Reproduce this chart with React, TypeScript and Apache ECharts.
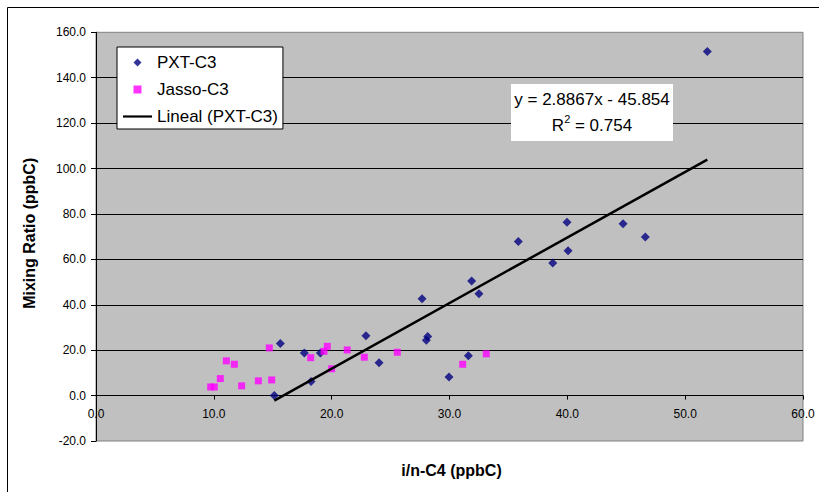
import React, { useEffect, useRef } from "react";
import * as echarts from "echarts";

// PXT-C3 series (x: i/n-C4 ppbC, y: mixing ratio ppbC)
const pxtX = [15.13, 15.64, 17.68, 18.25, 19.04, 22.91, 24.02, 27.67, 28.03, 28.15, 29.96, 31.6, 31.88, 32.5, 35.84, 38.76, 39.97, 40.06, 44.73, 46.62, 51.88];
const pxtY = [0.0, 22.9, 18.8, 6.2, 18.8, 26.4, 14.5, 42.7, 24.4, 26.0, 8.2, 17.6, 50.5, 44.9, 67.9, 58.4, 76.3, 63.8, 75.7, 69.9, 151.5];

// Jasso-C3 series
const jassoX = [9.73, 10.04, 10.55, 11.06, 11.74, 12.36, 13.78, 14.71, 14.91, 18.22, 19.35, 19.63, 20.0, 21.32, 22.77, 25.57, 31.12, 33.12];
const jassoY = [3.8, 3.8, 7.5, 15.3, 13.8, 4.3, 6.5, 21.0, 6.9, 16.7, 19.5, 21.7, 11.8, 20.1, 16.9, 19.1, 13.8, 18.4];

// Linear trend line (as displayed on the chart)
const trendSlope = 2.8867;
const trendIntercept = -45.854;
const trendR2 = 0.754;

// Axes
const xMin = 0;
const xMax = 60;
const xInterval = 10;
const yMin = -20;
const yMax = 160;
const yInterval = 20;

const seriesNames = ["PXT-C3", "Jasso-C3", "Lineal (PXT-C3)"];
const xTitle = "i/n-C4 (ppbC)";
const yTitle = "Mixing Ratio (ppbC)";

const FONT = "'Liberation Sans', Arial, sans-serif";

const GRID_TOP = 32.3;
const GRID_BOTTOM_PX = 441;

export default function App() {
  const ref = useRef<HTMLDivElement>(null);

  useEffect(() => {
    if (!ref.current) return;
    const chart = echarts.init(ref.current, null, { renderer: "svg" });

    const pxtData = pxtX.map((x, i) => [x, pxtY[i]]);
    const jassoData = jassoX.map((x, i) => [x, jassoY[i]]);
    const tx0 = Math.min(...pxtX);
    const tx1 = Math.max(...pxtX);
    const trendData = [
      [tx0, trendSlope * tx0 + trendIntercept],
      [tx1, trendSlope * tx1 + trendIntercept],
    ];
    const eqText = `y = ${trendSlope}x ${trendIntercept < 0 ? "-" : "+"} ${Math.abs(trendIntercept)}`;

    // x-axis sits on y = 0: shift it up from the bottom of the grid
    const plotH = GRID_BOTTOM_PX - GRID_TOP;
    const zeroOffset = -plotH * ((0 - yMin) / (yMax - yMin));

    chart.setOption({
      animation: false,
      backgroundColor: "#ffffff",
      textStyle: { fontFamily: FONT },
      grid: {
        left: 96,
        top: GRID_TOP,
        right: 16,
        bottom: 492 - GRID_BOTTOM_PX,
        show: true,
        backgroundColor: "#c0c0c0",
        borderColor: "#808080",
        borderWidth: 1,
      },
      xAxis: {
        type: "value",
        min: xMin,
        max: xMax,
        interval: xInterval,
        position: "bottom",
        offset: zeroOffset,
        axisLine: { show: true, onZero: false, lineStyle: { color: "#000", width: 1 } },
        axisTick: { show: true, inside: false, length: 4, lineStyle: { color: "#000" } },
        axisLabel: {
          margin: 12,
          color: "#000",
          fontSize: 12,
          fontFamily: FONT,
          formatter: (v: number) => v.toFixed(1),
        },
        splitLine: { show: false },
      },
      yAxis: {
        type: "value",
        min: yMin,
        max: yMax,
        interval: yInterval,
        axisLine: { show: true, onZero: false, lineStyle: { color: "#000", width: 1 } },
        axisTick: { show: true, inside: false, length: 5, lineStyle: { color: "#000" } },
        axisLabel: {
          margin: 10,
          color: "#000",
          fontSize: 12,
          fontFamily: FONT,
          formatter: (v: number) => v.toFixed(1),
        },
        splitLine: {
          show: true,
          showMinLine: false,
          showMaxLine: false,
          lineStyle: { color: "#000", width: 1 },
        },
      },
      legend: {
        orient: "vertical",
        left: 117,
        top: 47,
        backgroundColor: "#ffffff",
        borderColor: "#000",
        borderWidth: 1,
        padding: [5.5, 5, 2.5, 6],
        itemWidth: 29,
        itemHeight: 8,
        itemGap: 7,
        symbolKeepAspect: true,
        selectedMode: false,
        textStyle: { fontSize: 17, lineHeight: 20, color: "#000", fontFamily: FONT },
        data: [
          { name: seriesNames[0], icon: "path://M4,0L8,4L4,8L0,4Z" },
          { name: seriesNames[1], icon: "path://M0,0L7,0L7,7L0,7Z" },
          { name: seriesNames[2], icon: "path://M0,0L29,0L29,2.2L0,2.2Z" },
        ],
      },
      series: [
        {
          name: seriesNames[0],
          type: "scatter",
          symbol: "diamond",
          symbolSize: 9,
          symbolKeepAspect: true,
          itemStyle: { color: "#000080" },
          data: pxtData,
          z: 3,
        },
        {
          name: seriesNames[1],
          type: "scatter",
          symbol: "rect",
          symbolSize: 7,
          symbolKeepAspect: true,
          itemStyle: { color: "#ff00ff" },
          data: jassoData,
          z: 3,
        },
        {
          name: seriesNames[2],
          type: "line",
          symbol: "none",
          showSymbol: false,
          lineStyle: { color: "#000", width: 2.5 },
          itemStyle: { color: "#000" },
          data: trendData,
          z: 4,
        },
      ],
      graphic: [
        {
          type: "rect",
          shape: { x: 7.5, y: 7.5, width: 1000, height: 1000 },
          style: { fill: "none", stroke: "#000", lineWidth: 1 },
          silent: true,
          z: 100,
        },
        {
          type: "rect",
          shape: { x: 511, y: 84, width: 162, height: 57 },
          style: { fill: "#ffffff" },
          silent: true,
          z: 100,
        },
        {
          type: "text",
          x: 592,
          y: 99,
          style: {
            text: eqText,
            font: `17px ${FONT}`,
            fill: "#000",
            align: "center",
            verticalAlign: "middle",
          },
          z: 101,
        },
        {
          type: "text",
          x: 592,
          y: 123.5,
          style: {
            text: `{a|R}{s|2}{a| = ${trendR2}}`,
            align: "center",
            verticalAlign: "middle",
            rich: {
              a: { fontSize: 17, fontFamily: FONT, fill: "#000", lineHeight: 20, verticalAlign: "bottom" },
              s: { fontSize: 11, fontFamily: FONT, fill: "#000", lineHeight: 20, verticalAlign: "top" },
            },
          },
          z: 101,
        },
        {
          type: "text",
          x: 451.5,
          y: 470,
          style: {
            text: xTitle,
            font: `bold 16px ${FONT}`,
            fill: "#000",
            align: "center",
            verticalAlign: "middle",
          },
          z: 101,
        },
        {
          type: "text",
          x: 29.3,
          y: 233.3,
          rotation: Math.PI / 2,
          style: {
            text: yTitle,
            font: `bold 16px ${FONT}`,
            fill: "#000",
            align: "center",
            verticalAlign: "middle",
          },
          z: 101,
        },
      ],
    });

    return () => {
      chart.dispose();
    };
  }, []);

  return (
    <div
      ref={ref}
      style={{ position: "fixed", left: 0, top: 0, width: 819, height: 492 }}
    />
  );
}
